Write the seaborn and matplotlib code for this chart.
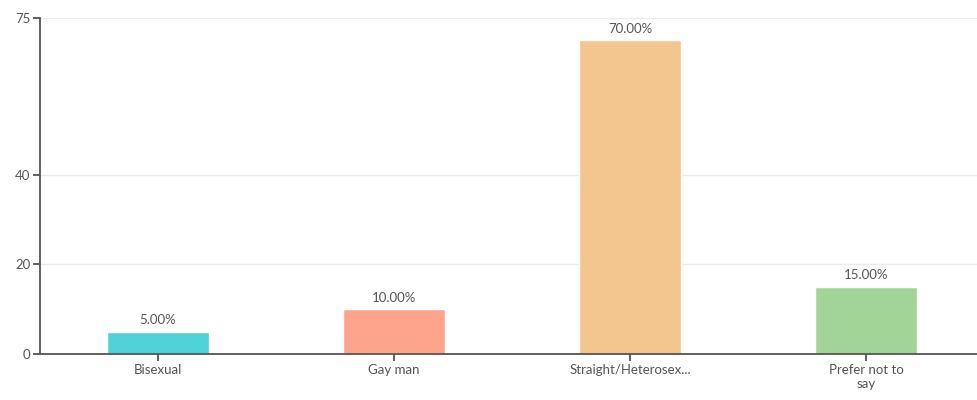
import seaborn as sns
from matplotlib import pyplot as plt
import pandas as pd

categories = ['Bisexual', 'Gay man', 'Straight/Heterosex...', 'Prefer not to\nsay']
values = [5, 10, 70, 15]
bar_labels = ['5.00%', '10.00%', '70.00%', '15.00%']
yticks = [0, 20, 40, 75]
colors = ['#4fd3d9', '#ffa48c', '#f4c68f', '#a3d497']

d = pd.DataFrame({'cat': categories, 'val': values})

sns.set_style('white')
plt.rcParams['font.family'] = ['Lato', 'DejaVu Sans']

f = plt.figure(figsize=(9.78, 4), dpi=100)
ax = f.add_axes([40/978, 1 - 354/400, 944/978, (354 - 18)/400])
sns.barplot(data=d, x='cat', y='val', hue='cat', palette=colors, legend=False,
            width=0.43, saturation=1, ax=ax)
ax.set_xlim(-0.5, 3.5)
ax.set_ylim(0, 75)
ax.set_yticks(yticks)
ax.yaxis.grid(True, color='#ebebeb', linewidth=1)
ax.set_axisbelow(True)
ax.set_xlabel('')
ax.set_ylabel('')
for s in ['top', 'right']:
    ax.spines[s].set_visible(False)
for s in ['left', 'bottom']:
    ax.spines[s].set_color('#555555')
    ax.spines[s].set_linewidth(1.3)
ax.tick_params(axis='both', colors='#555555', labelsize=9.5, length=5, width=1.3,
               direction='out', left=True, bottom=True, pad=2)
bars = [b for cont in ax.containers for b in cont]
for b, lab in zip(bars, bar_labels):
    ax.text(b.get_x() + b.get_width()/2, b.get_height() + 1.2, lab, ha='center', va='bottom',
            fontsize=9.5, color='#555555')
plt.savefig('out.png', dpi=100)
